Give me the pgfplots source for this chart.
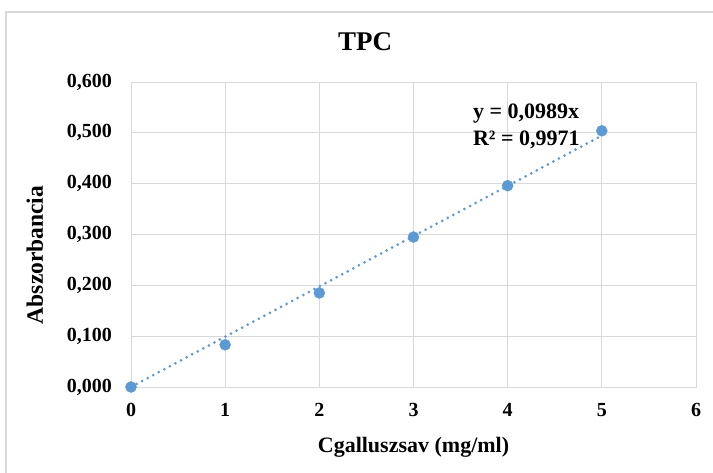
\documentclass[border=0pt]{standalone}
\usepackage{fontspec}
\setmainfont{Liberation Serif}
\usepackage{pgfplots}
\pgfplotsset{compat=1.18}
\definecolor{ptblue}{HTML}{5B9BD5}
\definecolor{gridgray}{HTML}{D9D9D9}
\begin{document}
\begin{tikzpicture}[x=1pt,y=1pt]
  \useasboundingbox (0,0) rectangle (713,473);
  \draw[gridgray, line width=1.6pt] (6,0) -- (6,461) -- (713,461);
  \node[font=\fontsize{27}{31}\selectfont\bfseries] at (365,431) {TPC};
  \begin{axis}[
      at={(131pt,86pt)}, anchor=south west,
      scale only axis, width=565pt, height=305pt,
      xmin=0, xmax=6, ymin=0, ymax=0.6,
      xtick={0,1,2,3,4,5,6},
      ytick={0,0.1,0.2,0.3,0.4,0.5,0.6},
      grid=major,
      grid style={gridgray, line width=0.8pt},
      axis line style={gridgray, line width=0.8pt},
      tick style={draw=none},
      /pgf/number format/assume math mode=true,
      ticklabel style={font=\fontsize{20}{23}\selectfont\bfseries, inner sep=0pt},
      xticklabel style={anchor=center, yshift=-23pt},
      yticklabel style={anchor=east, xshift=-19pt,
        /pgf/number format/.cd, fixed, fixed zerofill, precision=3, use comma},
      xlabel={Cgalluszsav (mg/ml)},
      ylabel={Abszorbancia},
      xlabel style={font=\fontsize{22}{26}\selectfont\bfseries,
        at={(axis description cs:0.5,-0.197)}, anchor=center},
      ylabel style={font=\fontsize{23.5}{27}\selectfont\bfseries,
        at={(axis description cs:-0.170,0.433)}, anchor=center},
    ]
    % trendline y = 0,0989x
    \addplot[ptblue, line width=3pt, line cap=round, dash pattern=on 0pt off 6.3pt]
      coordinates {(0,0) (5,0.4945)};
    \addplot[only marks, mark=*, mark size=5.5pt, mark options={fill=ptblue, draw=ptblue}] coordinates {
      (0,0.000) (1,0.083) (2,0.185) (3,0.295) (4,0.396) (5,0.504)};
    \node[anchor=west, align=left, inner sep=0pt, font=\fontsize{22}{27}\selectfont\bfseries]
      at (axis cs:3.63,0.513) {y = 0,0989x\\R² = 0,9971};
  \end{axis}
\end{tikzpicture}
\end{document}
